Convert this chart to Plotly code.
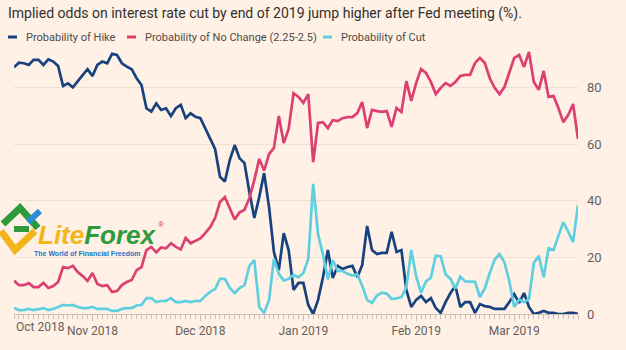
import plotly.graph_objects as go
import pandas as pd

# ---------------- data ----------------
dates = pd.bdate_range("2018-10-10", "2019-03-20")  # trading (week) days shown on the axis

hike = [87.2, 88.8, 88.6, 88.0, 89.8, 89.8, 88.0, 90.0, 89.2, 87.6,
        80.6, 81.5, 80.1, 82.4, 84.4, 86.5, 84.1, 88.0, 89.2, 88.6,
        91.9, 91.5, 88.6, 87.4, 86.5, 83.3, 80.9, 72.7, 71.5, 74.4,
        72.1, 72.7, 70.0, 72.7, 73.9, 69.2, 70.9, 69.7, 69.2, 65.6,
        62.1, 58.3, 48.5, 46.8, 54.4, 59.7, 55.0, 53.3, 43.0, 33.9,
        41.3, 49.8, 37.8, 21.9, 15.5, 28.6, 22.6, 8.5, 11.0, 11.0,
        3.2, 0.0, 5.0, 13.0, 22.6, 12.7, 17.0, 15.9, 16.6, 17.0,
        13.0, 17.3, 31.1, 22.6, 21.2, 21.6, 21.6, 29.0, 21.9, 22.6,
        8.5, 2.5, 5.0, 6.4, 4.2, 5.6, 2.1, 0.4, 4.2, 7.4,
        9.9, 2.5, 4.2, 4.2, 0.4, 3.5, 2.8, 2.5, 1.8, 1.8,
        1.8, 4.2, 7.0, 3.9, 7.4, 2.5, 0.0, 0.4, 1.1, 0.4,
        0.4, 0.0, 0.0, 0.4, 0.4, 0.0]

no_change = [11.8, 10.2, 10.2, 10.9, 9.5, 9.5, 11.0, 9.2, 9.9, 11.3,
             16.6, 16.2, 17.0, 14.8, 13.4, 11.7, 14.5, 10.6, 9.9, 10.2,
             7.8, 8.1, 10.2, 11.3, 12.0, 15.5, 16.6, 22.6, 23.7, 21.8,
             23.5, 23.2, 25.0, 23.7, 22.8, 26.9, 25.0, 26.0, 26.7, 28.6,
             30.7, 33.9, 39.6, 41.3, 37.0, 33.4, 35.9, 36.8, 41.0, 47.3,
             54.8, 50.7, 56.5, 58.7, 70.0, 60.4, 65.4, 78.0, 76.7, 74.6,
             77.7, 53.7, 67.5, 67.8, 65.7, 68.5, 68.2, 69.2, 69.6, 69.6,
             71.0, 74.9, 65.7, 72.1, 71.7, 71.4, 71.7, 66.1, 72.8, 71.4,
             82.3, 75.3, 81.6, 86.6, 85.2, 82.0, 77.7, 79.9, 81.6, 80.6,
             82.0, 84.1, 84.5, 84.5, 88.7, 90.5, 88.7, 83.4, 79.9, 77.7,
             80.2, 85.2, 90.5, 91.5, 87.3, 92.6, 82.0, 79.2, 85.9, 76.7,
             77.0, 72.8, 67.8, 70.3, 74.2, 61.8]

cut = [2.1, 1.4, 1.4, 1.8, 1.4, 1.8, 2.1, 1.4, 1.8, 2.5,
       3.2, 3.0, 3.2, 2.5, 2.1, 2.1, 2.5, 1.8, 1.8, 1.8,
       1.1, 1.1, 1.8, 2.1, 2.1, 3.0, 3.2, 5.6, 5.6, 4.2,
       4.6, 4.6, 5.6, 4.2, 4.2, 4.6, 4.2, 4.6, 4.6, 6.4,
       7.8, 8.8, 12.4, 12.4, 9.2, 7.4, 9.2, 10.2, 17.0, 19.0,
       2.5, 0.4, 4.9, 19.5, 14.2, 11.8, 12.4, 13.8, 13.0, 14.5,
       19.5, 46.0, 28.2, 21.0, 12.2, 19.0, 15.2, 15.2, 14.2, 13.6,
       14.0, 10.0, 5.0, 3.9, 6.5, 7.5, 7.2, 5.3, 5.5, 6.0,
       9.4, 22.6, 13.4, 7.5, 11.5, 12.8, 20.6, 20.4, 14.0, 12.4,
       9.0, 13.2, 11.5, 11.5, 11.4, 6.0, 9.0, 14.4, 19.2, 21.2,
       18.3, 11.5, 2.5, 5.2, 4.2, 5.3, 18.0, 20.6, 13.0, 23.2,
       22.6, 27.6, 32.4, 29.1, 25.4, 38.4]

series_names = ["Probability of Hike", "Probability of No Change (2.25-2.5)", "Probability of Cut"]
series_colors = ["#17417f", "#dc3f72", "#5fcfe0"]

month_ticks = ["2018-11-01", "2018-12-03", "2019-01-01", "2019-02-01", "2019-03-01"]
month_labels = ["Nov 2018", "Dec 2018", "Jan 2019", "Feb 2019", "Mar 2019"]
first_label = "Oct 2018"
y_ticks = [0, 20, 40, 60, 80]

title_text = "Implied odds on interest rate cut by end of 2019 jump higher after Fed meeting (%)."

# ---------------- layout helpers ----------------
W, H = 626, 350
ML, MR, MT, MB = 14, 48, 31, 36
PW, PH = W - ML - MR, H - MT - MB
def xp(px):
    return (px - ML) / PW
def yp(py):
    return (H - MB - py) / PH

FONT = "Liberation Sans Narrow, Arial Narrow, Roboto, sans-serif"
BG = "#fff1e5"
AXIS_C = "#cdbfb4"
TICK_C = "#66605c"

fig = go.Figure()
for vals, name, col in zip([hike, no_change, cut], series_names, series_colors):
    fig.add_trace(go.Scatter(x=dates, y=vals, name=name, mode="lines",
                             line=dict(color=col, width=2.7), showlegend=False))

shapes = []
annotations = []

# legend (manual, short swatches)
leg = [(8, 24), (127, 143), (323, 339)]
for (sx, tx), name, col in zip(leg, series_names, series_colors):
    shapes.append(dict(type="line", xref="paper", yref="paper",
                       x0=xp(sx), x1=xp(sx + 9), y0=yp(37), y1=yp(37),
                       line=dict(color=col, width=3)))
    annotations.append(dict(text=name, xref="paper", yref="paper", x=xp(tx), y=yp(37),
                            xanchor="left", yanchor="middle", showarrow=False,
                            font=dict(family=FONT, size=11, color="#4f4a46")))

# clamped first month label
annotations.append(dict(text=first_label, xref="paper", yref="paper", x=xp(40), y=yp(327),
                        xanchor="center", yanchor="middle", showarrow=False,
                        font=dict(family=FONT, size=12, color=TICK_C)))

# LiteForex watermark
def path(points):
    return "M " + " L ".join(f"{xp(a)},{yp(b)}" for a, b in points)
shapes.append(dict(type="path", xref="paper", yref="paper", path=path([(1, 231), (15, 250), (35, 231)]),
                   line=dict(color="#f2b51b", width=7)))
shapes.append(dict(type="path", xref="paper", yref="paper", path=path([(3, 224), (20, 208), (38, 228)]),
                   line=dict(color="#2f9a3c", width=7)))
shapes.append(dict(type="path", xref="paper", yref="paper", path=path([(14, 229), (29, 229)]),
                   line=dict(color="#2f9a3c", width=6)))
shapes.append(dict(type="path", xref="paper", yref="paper", path=path([(28, 222), (40, 211)]),
                   line=dict(color="#2a8fd8", width=6)))
annotations.append(dict(text="<b><i><span style='color:#f2b51b'>Lite</span><span style='color:#2f9a3c'>Forex</span></i></b>",
                        xref="paper", yref="paper", x=xp(36), y=yp(235), xanchor="left", yanchor="middle",
                        showarrow=False, font=dict(family="Liberation Sans, Arial, sans-serif", size=26)))
annotations.append(dict(text="®", xref="paper", yref="paper", x=xp(161), y=yp(224), xanchor="center",
                        yanchor="middle", showarrow=False, font=dict(family="Liberation Sans", size=8, color="#d8354a")))
annotations.append(dict(text="<b>The World of Financial Freedom</b>", xref="paper", yref="paper",
                        x=xp(32), y=yp(253), xanchor="left", yanchor="middle", showarrow=False,
                        font=dict(family="Liberation Sans, Arial, sans-serif", size=7, color="#1f73c4")))

fig.update_layout(
    width=W, height=H,
    margin=dict(l=ML, r=MR, t=MT, b=MB),
    paper_bgcolor=BG, plot_bgcolor=BG,
    title=dict(text=title_text, xref="container", yref="container", x=8 / W, y=1 - 13 / H,
               xanchor="left", yanchor="middle",
               font=dict(family=FONT, size=14, color="#33302e")),
    xaxis=dict(type="date", range=[dates[0], dates[-1]],
               rangebreaks=[dict(bounds=["sat", "mon"])],
               tickvals=month_ticks, ticktext=month_labels,
               ticks="outside", ticklen=6, tickcolor=AXIS_C, tickwidth=1,
               minor=dict(ticks="outside", ticklen=4, tickcolor=AXIS_C, dtick=86400000,
                          tick0="2018-10-10", showgrid=False),
               showline=True, linecolor=AXIS_C, linewidth=1,
               showgrid=False, zeroline=False,
               tickfont=dict(family=FONT, size=12, color=TICK_C)),
    yaxis=dict(side="right", range=[0, 100], tickvals=y_ticks,
               showgrid=True, gridcolor="#eddfd3", gridwidth=1, zeroline=False,
               ticks="", ticklabelstandoff=8,
               tickfont=dict(family=FONT, size=13, color=TICK_C)),
    shapes=shapes, annotations=annotations,
)

fig.write_html("out.html")
